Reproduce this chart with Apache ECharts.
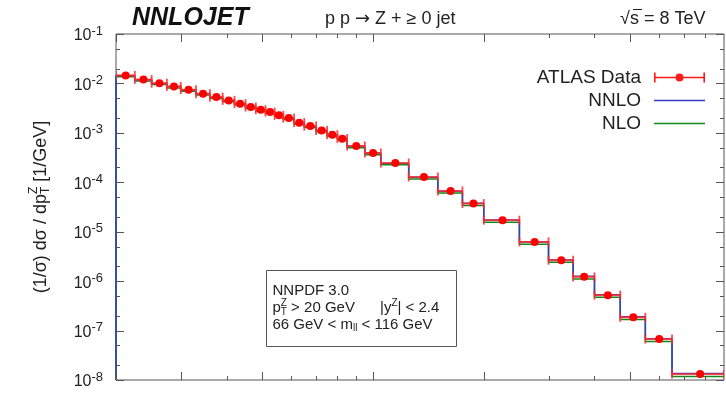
<!DOCTYPE html>
<html>
<head>
<meta charset="utf-8">
<script src="https://cdn.jsdelivr.net/npm/echarts@6/dist/echarts.min.js"></script>
<style>html,body{margin:0;padding:0;background:#fff}#c{width:726px;height:393px}</style>
</head>
<body>
<div id="c"></div>
<script>
// ---- data ----
const binEdges = [20,22.5,25,27.5,30,33,36,39,42,45,48,51,54,57,61,65,70,75,80,85,95,105,125,150,175,200,250,300,350,400,470,550,650,900];
const atlasData = [1.45e-2,1.20e-2,1.01e-2,8.7e-3,7.46e-3,6.2e-3,5.29e-3,4.54e-3,3.89e-3,3.32e-3,2.94e-3,2.63e-3,2.26e-3,1.99e-3,1.61e-3,1.37e-3,1.12e-3,9.2e-4,7.64e-4,5.41e-4,3.91e-4,2.45e-4,1.28e-4,6.67e-5,3.71e-5,1.71e-5,6.22e-6,2.65e-6,1.22e-6,5.21e-7,1.85e-7,6.73e-8,1.32e-8];
const nnloValues = [1.44e-2,1.19e-2,1.00e-2,8.65e-3,7.4e-3,6.15e-3,5.25e-3,4.5e-3,3.86e-3,3.3e-3,2.92e-3,2.6e-3,2.24e-3,1.97e-3,1.6e-3,1.36e-3,1.11e-3,9.1e-4,7.6e-4,5.4e-4,3.9e-4,2.44e-4,1.27e-4,6.6e-5,3.75e-5,1.72e-5,6.2e-6,2.68e-6,1.25e-6,5.3e-7,1.9e-7,6.8e-8,1.36e-8];
const nloValues = [1.36e-2,1.12e-2,0.95e-2,8.1e-3,6.95e-3,5.8e-3,4.95e-3,4.25e-3,3.64e-3,3.1e-3,2.75e-3,2.45e-3,2.11e-3,1.86e-3,1.5e-3,1.28e-3,1.04e-3,8.55e-4,7.1e-4,5.02e-4,3.62e-4,2.26e-4,1.17e-4,6.1e-5,3.4e-5,1.56e-5,5.6e-6,2.4e-6,1.11e-6,4.7e-7,1.68e-7,6.0e-8,1.18e-8];
const yMajorTicks = [1e-8,1e-7,1e-6,1e-5,1e-4,1e-3,1e-2,1e-1];
const yMinorMultipliers = [2,5];
const xMajorTicks = [20,30,50,100,200,500];
const xMinorTicks = [40,60,70,80,90,300,400,600,700,800];
const xMin = 20, xMax = 900, yMin = 1e-8, yMax = 1e-1;

const FONT = '"Liberation Sans", Arial, Helvetica, sans-serif';
const TXT = '#222';

const cv = document.createElement('canvas').getContext('2d');
function tw(t, fs, w) { cv.font = (w || 'normal') + ' ' + fs + 'px ' + FONT; return cv.measureText(t).width; }

// builds text pieces; seg: {t, fs, dy} or {stack:[{t,fs,dy},...]}
function textRun(segs, x0, y0, z) {
  const out = []; let x = x0;
  const mk = (t, fs, xx, yy) => ({type:'text', x:xx, y:yy, z:z || 0, style:{text:t, font: fs + 'px ' + FONT, fill:TXT, verticalAlign:'middle'}});
  segs.forEach(s => {
    if (s.stack) {
      let w = 0;
      s.stack.forEach(k => { out.push(mk(k.t, k.fs, x, y0 + k.dy)); w = Math.max(w, tw(k.t, k.fs)); });
      x += w;
    } else {
      out.push(mk(s.t, s.fs, x, y0 + (s.dy || 0)));
      x += tw(s.t, s.fs);
    }
  });
  return {els: out, width: x - x0};
}

function steps(vals) {
  const pts = [[binEdges[0], yMin]];
  vals.forEach((v, i) => { pts.push([binEdges[i], v]); pts.push([binEdges[i+1], v]); });
  return pts;
}

const yTickData = [];
yMajorTicks.forEach(v => yTickData.push([xMin, v, 8]));
yMajorTicks.slice(0, -1).forEach(d => yMinorMultipliers.forEach(m => yTickData.push([xMin, d*m, 4])));
const xTickData = [];
xMajorTicks.forEach(v => xTickData.push([v, yMin, 8]));
xMinorTicks.forEach(v => xTickData.push([v, yMin, 4]));

const dataPts = atlasData.map((v, i) => [(binEdges[i] + binEdges[i+1]) / 2, v, binEdges[i], binEdges[i+1]]);

// y-axis title (rotated, with stacked sub/superscript)
const ttl = textRun([
  {t:'(1/σ) dσ / dp', fs:18},
  {stack:[{t:'Z', fs:12, dy:-7}, {t:'T', fs:12, dy:5}]},
  {t:' [1/GeV]', fs:18}
], 0, 0);
ttl.els.forEach(e => e.x -= ttl.width / 2);

const box2a = textRun([
  {t:'p', fs:15},
  {stack:[{t:'Z', fs:10, dy:-5}, {t:'T', fs:10, dy:4}]},
  {t:' > 20 GeV', fs:15}
], 272.5, 308, 20);

const chart = echarts.init(document.getElementById('c'), null, {renderer:'canvas'});
const legendCommon = {orient:'vertical', right:21, align:'right', padding:0, selectedMode:false,
  textStyle:{fontFamily:FONT, fontSize:19, color:TXT, padding:[0,8,0,0]}, itemWidth:51};

chart.setOption({
  animation:false,
  textStyle:{fontFamily:FONT},
  grid:{left:116, right:2, top:34, bottom:13, show:true, borderColor:'#555', borderWidth:1, backgroundColor:'transparent'},
  xAxis:{type:'log', logBase:10, min:xMin, max:xMax, axisLine:{show:false}, axisTick:{show:false}, axisLabel:{show:false}, splitLine:{show:false}},
  yAxis:{type:'log', logBase:10, min:yMin, max:yMax, splitNumber:7,
    axisLine:{show:false}, axisTick:{show:false}, splitLine:{show:false}, minorTick:{show:false},
    axisLabel:{show:true, margin:13, showMinLabel:true, showMaxLabel:true,
      formatter: v => '{b|10}{s|' + Math.round(Math.log10(v)) + '}',
      rich:{b:{fontSize:16, fontFamily:FONT, color:TXT, padding:[4,0,0,0]}, s:{fontSize:13, fontFamily:FONT, color:TXT, padding:[0,0,6,0]}}}},
  legend:[
    Object.assign({top:68, itemHeight:10, data:[{name:'ATLAS Data', icon:'path://M0,4.2 h51 v1.6 h-51 z M0,0 h1.6 v10 h-1.6 z M49.4,0 h1.6 v10 h-1.6 z M29.5,5 a4,4 0 1,1 -8,0 a4,4 0 1,1 8,0 z'}]}, legendCommon),
    Object.assign({top:91, itemHeight:1.6, data:[{name:'NNLO', icon:'rect'}]}, legendCommon),
    Object.assign({top:114, itemHeight:1.6, data:[{name:'NLO', icon:'rect'}]}, legendCommon)
  ],
  graphic:[
    {type:'text', left:132, top:6, style:{text:'NNLOJET', font:'italic bold 25px ' + FONT, fill:'#111'}},
    {type:'text', x:325, y:19, style:{text:'p p {a|→} Z + ≥ 0 jet', font:'18px ' + FONT, fill:TXT, verticalAlign:'middle',
      rich:{a:{fontSize:18, fontFamily:'"DejaVu Sans", sans-serif', color:TXT}}}},
    {type:'text', x:620, y:19, style:{text:'√s = 8 TeV', font:'18px ' + FONT, fill:TXT, verticalAlign:'middle'}},
    {type:'line', shape:{x1:633, y1:9.5, x2:642, y2:9.5}, style:{stroke:TXT, lineWidth:1}},
    {type:'group', x:41, y:207, rotation:Math.PI/2, children: ttl.els},
    {type:'rect', shape:{x:266.5, y:270.5, width:190, height:76}, style:{fill:'none', stroke:'#555', lineWidth:1}, z:10},
    {type:'text', x:272.5, y:291, z:20, style:{text:'NNPDF 3.0', font:'15px ' + FONT, fill:TXT, verticalAlign:'middle'}},
    ...box2a.els,
    {type:'text', x:380, y:308, z:20, style:{text:'|y{s|Z}| < 2.4', font:'15px ' + FONT, fill:TXT, verticalAlign:'middle', rich:{s:{fontSize:10, fontFamily:FONT, fill:TXT, padding:[0,0,9,0]}}}},
    {type:'text', x:272.5, y:325, z:20, style:{text:'66 GeV < m{s|ll} < 116 GeV', font:'15px ' + FONT, fill:TXT, verticalAlign:'middle', rich:{s:{fontSize:10, fontFamily:FONT, fill:TXT, padding:[7,0,0,0]}}}}
  ],
  series:[
    {name:'NLO', type:'line', data:steps(nloValues), symbol:'none', showSymbol:false, z:2,
      lineStyle:{color:'#11881a', width:1.5}, itemStyle:{color:'#11881a'}},
    {name:'NNLO', type:'line', data:steps(nnloValues), symbol:'none', showSymbol:false, z:3,
      lineStyle:{color:'#3a3ac8', width:1.5}, itemStyle:{color:'#3a3ac8'}},
    {name:'ATLAS Data', type:'custom', data:dataPts, encode:{x:0, y:1}, z:4, clip:true,
      itemStyle:{color:'#ff1a1a'},
      renderItem:(params, api) => {
        const y = api.value(1);
        const c = api.coord([api.value(0), y]);
        const l = api.coord([api.value(2), y]);
        const h = api.coord([api.value(3), y]);
        const st = {stroke:'#ff2a2a', lineWidth:1.8, opacity:0.85};
        return {type:'group', children:[
          {type:'line', shape:{x1:l[0], y1:l[1], x2:h[0], y2:h[1]}, style:st},
          {type:'line', shape:{x1:l[0], y1:l[1]-4.5, x2:l[0], y2:l[1]+4.5}, style:st},
          {type:'line', shape:{x1:h[0], y1:h[1]-4.5, x2:h[0], y2:h[1]+4.5}, style:st},
          {type:'circle', shape:{cx:c[0], cy:c[1], r:4}, style:{fill:'#ff0000'}}
        ]};
      }},
    {name:'yticks', type:'custom', data:yTickData, encode:{x:0, y:1}, z:5, silent:true,
      renderItem:(params, api) => {
        const cs = params.coordSys; const p = api.coord([api.value(0), api.value(1)]); const len = api.value(2);
        const yy = Math.round(p[1]) + 0.5; const st = {stroke:'#555', lineWidth:1};
        return {type:'group', children:[
          {type:'line', shape:{x1:cs.x, y1:yy, x2:cs.x+len, y2:yy}, style:st},
          {type:'line', shape:{x1:cs.x+cs.width-len, y1:yy, x2:cs.x+cs.width, y2:yy}, style:st}
        ]};
      }},
    {name:'xticks', type:'custom', data:xTickData, encode:{x:0, y:1}, z:5, silent:true,
      renderItem:(params, api) => {
        const cs = params.coordSys; const p = api.coord([api.value(0), api.value(1)]); const len = api.value(2);
        const xx = Math.round(p[0]) + 0.5; const st = {stroke:'#555', lineWidth:1};
        return {type:'group', children:[
          {type:'line', shape:{x1:xx, y1:cs.y+cs.height, x2:xx, y2:cs.y+cs.height-len}, style:st},
          {type:'line', shape:{x1:xx, y1:cs.y, x2:xx, y2:cs.y+len}, style:st}
        ]};
      }}
  ]
});
</script>
</body>
</html>
